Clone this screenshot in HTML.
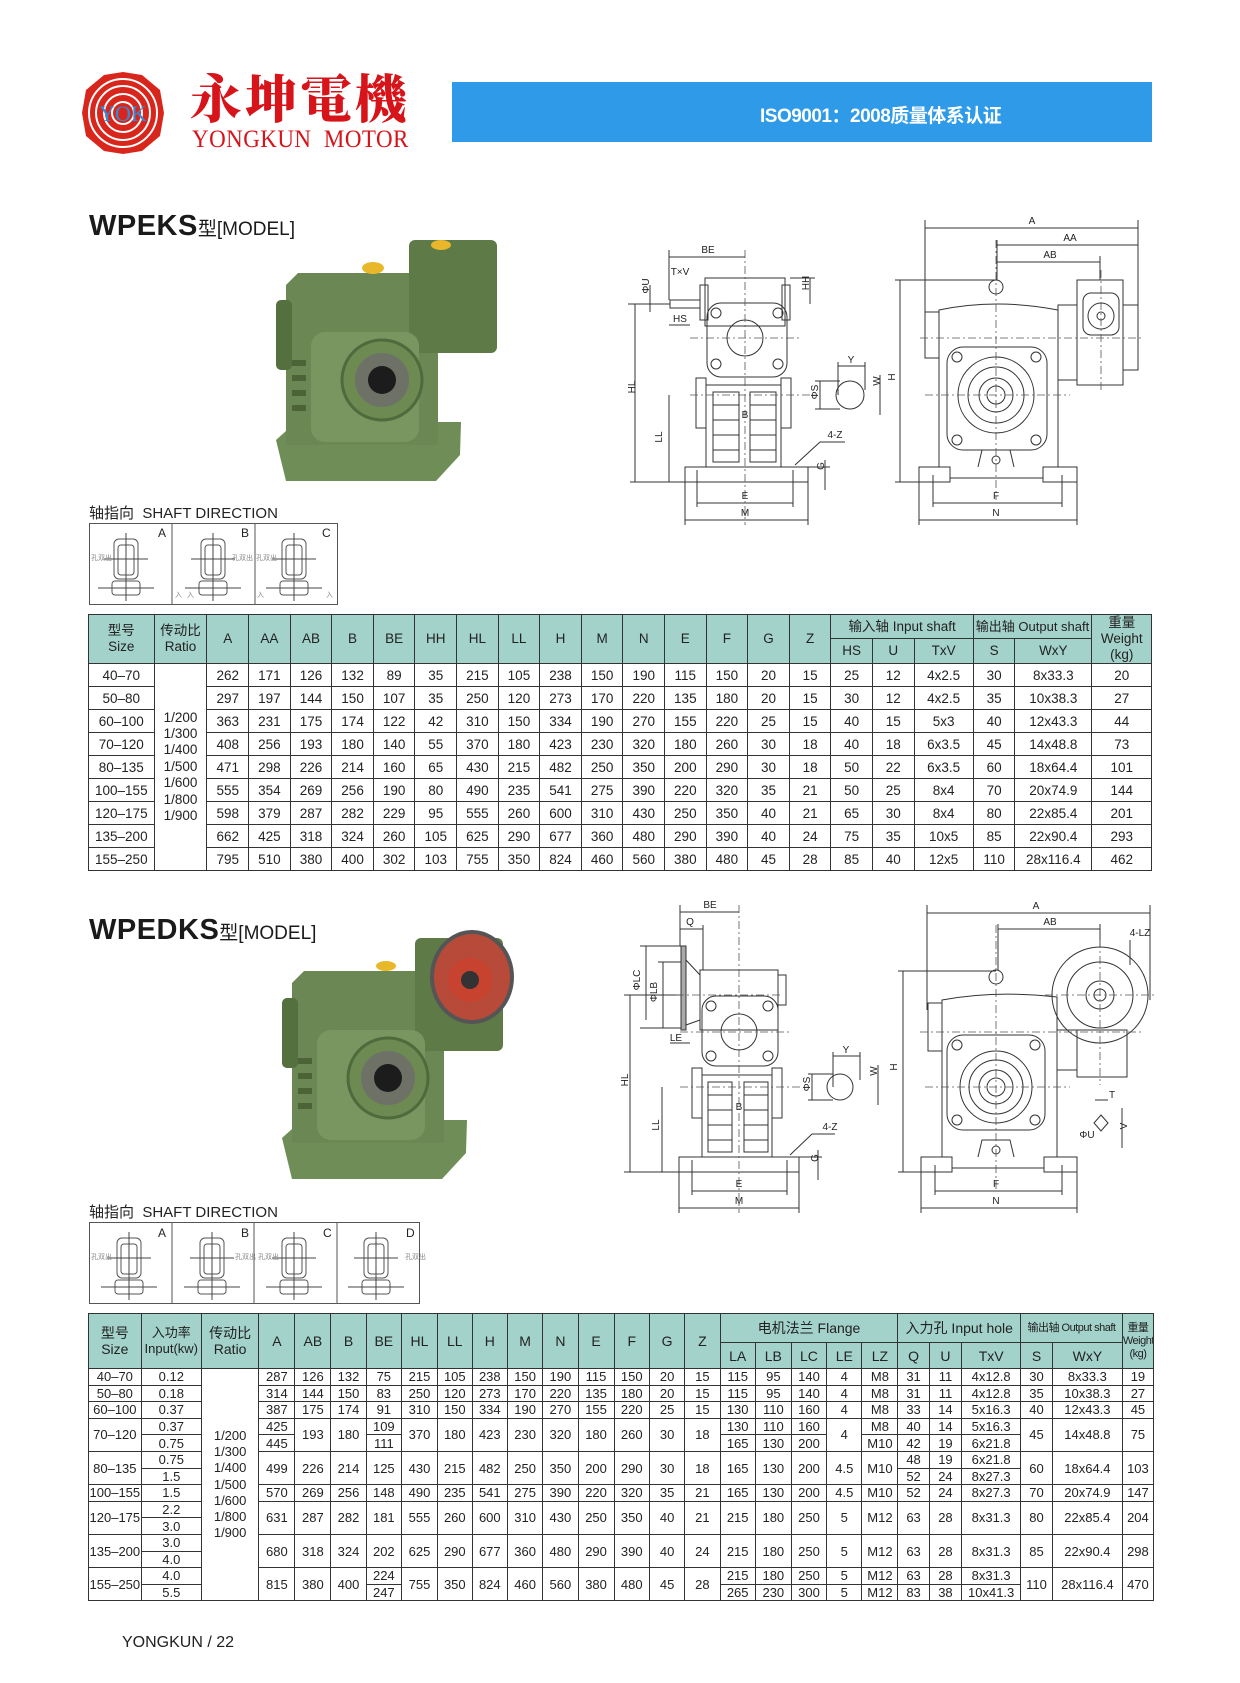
<!DOCTYPE html>
<html><head><meta charset="utf-8">
<style>
*{margin:0;padding:0;box-sizing:border-box}
body{width:1240px;height:1683px;background:#fff;position:relative;overflow:hidden;font-family:"Liberation Sans","Noto Sans CJK SC",sans-serif;color:#222}
.abs{position:absolute}
table{border-collapse:collapse;table-layout:fixed;position:absolute}
td{border:1px solid #333;text-align:center;vertical-align:middle;padding:0;white-space:nowrap;overflow:hidden}
.h td{background:#a3d2ca;font-size:14px;line-height:16px}
.t1 td{font-size:13.5px}
.t2 td{font-size:13px}
.t2 .h td{font-size:14px}
.sm{font-size:11px!important;letter-spacing:-0.5px}
.title{font-weight:bold;font-size:29px;letter-spacing:0.5px;color:#1a1a1a}
.title span{font-weight:normal;font-size:19px;letter-spacing:0}
.sd{font-size:15px;color:#222}
</style></head><body>

<!-- logo -->
<svg class="abs" style="left:80px;top:70px" width="86" height="86" viewBox="0 0 86 86">
<path d="M43 2 L62 5 L80 20 L84 43 L80 66 L62 81 L43 84 L24 81 L6 66 L2 43 L6 20 L24 5Z" fill="#d9261c"/>
<circle cx="43" cy="43" r="34" fill="none" stroke="#fff" stroke-width="2"/>
<circle cx="43" cy="43" r="27" fill="none" stroke="#fff" stroke-width="2"/>
<circle cx="43" cy="43" r="19" fill="none" stroke="#fff" stroke-width="2"/>
<circle cx="43" cy="43" r="11" fill="none" stroke="#fff" stroke-width="2"/>
<text x="43" y="51" text-anchor="middle" font-family="Liberation Serif" font-size="22" fill="#2b8fe0">YOK</text>
</svg>
<div class="abs" style="left:190px;top:66px;font-family:'Noto Serif CJK SC',serif;font-weight:900;font-size:52px;color:#d7141a;letter-spacing:3px;line-height:60px">永坤電機</div>
<div class="abs" style="left:192px;top:127px;font-family:'Liberation Serif',serif;font-size:25px;color:#d7141a;letter-spacing:0.5px;line-height:26px;transform:scaleX(0.92);transform-origin:left">YONGKUN&nbsp; MOTOR</div>
<div class="abs" style="left:452px;top:82px;width:700px;height:60px;background:#2f9be8"></div>
<div class="abs" style="left:760px;top:101px;color:#fff;font-size:19px;font-weight:bold;letter-spacing:-0.5px">ISO9001：2008质量体系认证</div>

<!-- titles -->
<div class="abs title" style="left:89px;top:210px">WPEKS<span>型[MODEL]</span></div>
<div class="abs title" style="left:89px;top:914px">WPEDKS<span>型[MODEL]</span></div>
<div class="abs sd" style="left:89px;top:502px">轴指向&nbsp; SHAFT DIRECTION</div>
<div class="abs sd" style="left:89px;top:1201px">轴指向&nbsp; SHAFT DIRECTION</div>

<svg class="abs" style="left:0;top:0" width="1240" height="1683" viewBox="0 0 1240 1683">
<defs>
<g id="photo">
 <path d="M0 200 L20 182 L185 182 L184 215 L160 241 L10 241 Z" fill="#6f8e57"/>
 <path d="M10 45 L22 33 L150 33 L162 50 L162 205 L10 205 Z" fill="#6b8753"/>
 <rect x="0" y="60" width="16" height="70" rx="5" fill="#55703f"/>
 <rect x="133" y="0" width="88" height="113" rx="6" fill="#5e7a47"/>
 <rect x="35" y="92" width="108" height="110" rx="14" fill="#7a9660"/>
 <circle cx="106" cy="140" r="40" fill="#6c8a52" stroke="#4f6a3c" stroke-width="3"/>
 <circle cx="106" cy="140" r="27" fill="#6d7166"/>
 <circle cx="106" cy="140" r="14" fill="#1c1c1c"/>
 <g fill="#4b6336"><rect x="16" y="120" width="14" height="6"/><rect x="16" y="135" width="14" height="6"/><rect x="16" y="150" width="14" height="6"/><rect x="16" y="165" width="14" height="6"/></g>
</g>
<g id="sdicon">
 <rect x="-12" y="-30" width="24" height="40" rx="5" fill="none" stroke="#555"/>
 <rect x="-8" y="-24" width="16" height="30" rx="3" fill="none" stroke="#555"/>
 <rect x="-14" y="12" width="28" height="14" rx="3" fill="none" stroke="#555"/>
 <line x1="0" y1="-36" x2="0" y2="32" stroke="#444"/>
 <line x1="-22" y1="-10" x2="22" y2="-10" stroke="#444"/>
 <line x1="-28" y1="19" x2="28" y2="19" stroke="#444"/>
</g>
</defs>
<g stroke="#555" fill="none" stroke-width="1">
<rect x="89.5" y="523.5" width="248" height="81"/>
<line x1="172" y1="523" x2="172" y2="605"/><line x1="255" y1="523" x2="255" y2="605"/>
<rect x="89.5" y="1222.5" width="330" height="81"/>
<line x1="172" y1="1222" x2="172" y2="1304"/><line x1="254" y1="1222" x2="254" y2="1304"/><line x1="337" y1="1222" x2="337" y2="1304"/>
</g>
<g font-size="12" fill="#222"><text x="158" y="537">A</text><text x="241" y="537">B</text><text x="322" y="537">C</text>
<text x="158" y="1237">A</text><text x="241" y="1237">B</text><text x="323" y="1237">C</text><text x="406" y="1237">D</text></g>
<use href="#sdicon" x="126" y="569"/><use href="#sdicon" x="213" y="569"/><use href="#sdicon" x="294" y="569"/>
<use href="#sdicon" x="129" y="1268"/><use href="#sdicon" x="212" y="1268"/><use href="#sdicon" x="294" y="1268"/><use href="#sdicon" x="376" y="1268"/>
<g font-size="7" fill="#888"><text x="91" y="560">孔双出</text><text x="232" y="560">孔双出</text><text x="256" y="560">孔双出</text><text x="187" y="597">入</text><text x="175" y="597">入</text><text x="257" y="597">入</text><text x="326" y="597">入</text>
<text x="91" y="1259">孔双出</text><text x="235" y="1259">孔双出</text><text x="258" y="1259">孔双出</text><text x="405" y="1259">孔双出</text></g>

<!-- photos -->
<use href="#photo" x="276" y="240"/>
<ellipse cx="373" cy="268" rx="11" ry="6" fill="#e8b82a"/><ellipse cx="441" cy="245" rx="10" ry="5" fill="#e8b82a"/>
<use href="#photo" x="282" y="938"/>
<ellipse cx="386" cy="966" rx="10" ry="5" fill="#e8b82a"/>
<ellipse cx="472" cy="977" rx="40" ry="45" fill="#b84a3a" stroke="#555" stroke-width="4"/>
<circle cx="470" cy="980" r="22" fill="#c8432f"/><circle cx="470" cy="980" r="9" fill="#333"/>

<!-- ===== Diagram 1 ===== -->
<g stroke="#333" fill="none" stroke-width="1">
 <rect x="705" y="278" width="80" height="48"/>
 <rect x="700" y="285" width="8" height="35"/><rect x="782" y="285" width="8" height="35"/>
 <rect x="707" y="303" width="80" height="74" rx="14"/>
 <circle cx="745" cy="338" r="18"/>
 <circle cx="716" cy="313" r="5"/><circle cx="778" cy="313" r="5"/><circle cx="716" cy="364" r="5"/><circle cx="778" cy="364" r="5"/>
 <rect x="706" y="385" width="75" height="82"/>
 <rect x="713" y="392" width="26" height="70"/><rect x="750" y="392" width="26" height="70"/>
 <line x1="713" y1="405" x2="739" y2="405"/><line x1="713" y1="420" x2="739" y2="420"/><line x1="713" y1="435" x2="739" y2="435"/><line x1="713" y1="450" x2="739" y2="450"/>
 <line x1="750" y1="405" x2="776" y2="405"/><line x1="750" y1="420" x2="776" y2="420"/><line x1="750" y1="435" x2="776" y2="435"/><line x1="750" y1="450" x2="776" y2="450"/>
 <rect x="696" y="378" width="10" height="50"/><rect x="781" y="378" width="10" height="50"/>
 <rect x="685" y="467" width="123" height="15"/>
 <rect x="670" y="300" width="30" height="8"/>
 <line x1="669" y1="257" x2="745" y2="257"/><line x1="669" y1="250" x2="669" y2="300"/>
 <line x1="635" y1="304" x2="635" y2="482"/><line x1="628" y1="304" x2="670" y2="304"/>
 <line x1="669" y1="395" x2="669" y2="482"/><line x1="630" y1="482" x2="685" y2="482"/>
 <line x1="650" y1="285" x2="650" y2="312"/><line x1="669" y1="325" x2="690" y2="325"/>
 <line x1="810" y1="278" x2="810" y2="304"/><line x1="790" y1="278" x2="815" y2="278"/>
 <line x1="697" y1="503" x2="793" y2="503"/><line x1="685" y1="520" x2="808" y2="520"/>
 <line x1="697" y1="470" x2="697" y2="507"/><line x1="793" y1="470" x2="793" y2="507"/><line x1="685" y1="482" x2="685" y2="525"/><line x1="808" y1="482" x2="808" y2="525"/>
 <line x1="825" y1="460" x2="825" y2="490"/><line x1="808" y1="467" x2="830" y2="467"/>
 <line x1="795" y1="465" x2="820" y2="442"/><line x1="820" y1="442" x2="845" y2="442"/>
 <circle cx="850" cy="395" r="14"/>
 <line x1="838" y1="366" x2="865" y2="366"/><line x1="838" y1="362" x2="838" y2="395"/><line x1="865" y1="362" x2="865" y2="390"/>
 <line x1="820" y1="381" x2="820" y2="409"/><line x1="815" y1="381" x2="840" y2="381"/><line x1="815" y1="409" x2="840" y2="409"/>
 <line x1="880" y1="375" x2="880" y2="415"/>
 <path d="M939 467 L939 310 Q996 298 1058 310 L1058 467"/>
 <rect x="925" y="312" width="14" height="46"/>
 <rect x="947" y="347" width="100" height="103" rx="16"/>
 <circle cx="996" cy="395" r="38"/><circle cx="996" cy="395" r="28"/><circle cx="996" cy="395" r="17"/><circle cx="996" cy="395" r="9"/>
 <circle cx="957" cy="357" r="5"/><circle cx="1036" cy="357" r="5"/><circle cx="957" cy="440" r="5"/><circle cx="1036" cy="440" r="5"/>
 <circle cx="996" cy="287" r="7"/>
 <rect x="1077" y="280" width="46" height="105"/>
 <rect x="1058" y="305" width="19" height="75"/>
 <rect x="1083" y="293" width="36" height="42" rx="8"/>
 <circle cx="1101" cy="316" r="13"/><circle cx="1101" cy="316" r="4"/>
 <rect x="1123" y="305" width="15" height="65"/>
 <rect x="919" y="467" width="31" height="15"/><rect x="1043" y="467" width="34" height="15"/>
 <line x1="950" y1="478" x2="1043" y2="478"/>
 <path d="M978 467 L982 450 L1010 450 L1014 467"/><circle cx="996" cy="460" r="4"/>
 <line x1="925" y1="228" x2="1138" y2="228"/><line x1="925" y1="220" x2="925" y2="325"/><line x1="1138" y1="220" x2="1138" y2="310"/>
 <line x1="997" y1="245" x2="1138" y2="245"/><line x1="997" y1="240" x2="997" y2="280"/>
 <line x1="997" y1="262" x2="1100" y2="262"/><line x1="1100" y1="256" x2="1100" y2="280"/>
 <line x1="900" y1="280" x2="900" y2="482"/><line x1="895" y1="280" x2="996" y2="280"/><line x1="895" y1="482" x2="919" y2="482"/>
 <line x1="933" y1="503" x2="1062" y2="503"/><line x1="919" y1="520" x2="1077" y2="520"/>
 <line x1="933" y1="475" x2="933" y2="507"/><line x1="1062" y1="475" x2="1062" y2="507"/><line x1="919" y1="482" x2="919" y2="525"/><line x1="1077" y1="482" x2="1077" y2="525"/>
</g>
<g stroke="#555" stroke-dasharray="8 3 2 3" stroke-width="0.8">
 <line x1="745" y1="250" x2="745" y2="525"/><line x1="690" y1="338" x2="800" y2="338"/><line x1="690" y1="395" x2="810" y2="395"/>
 <line x1="996" y1="240" x2="996" y2="500"/><line x1="920" y1="338" x2="1142" y2="338"/><line x1="925" y1="395" x2="1070" y2="395"/><line x1="1101" y1="270" x2="1101" y2="390"/>
</g>
<g font-size="10" fill="#222" text-anchor="middle">
 <text x="708" y="253">BE</text><text x="680" y="275">T×V</text><text x="680" y="322">HS</text>
 <text x="640" y="398" transform="rotate(-90 632 395)">HL</text><text x="665" y="440" transform="rotate(-90 662 440)">LL</text>
 <text x="655" y="296" transform="rotate(-90 647 294)">ΦU</text><text x="815" y="293" transform="rotate(-90 807 291)">HH</text>
 <text x="745" y="499">E</text><text x="745" y="516">M</text><text x="745" y="418">B</text>
 <text x="835" y="438">4-Z</text><text x="830" y="476" transform="rotate(-90 822 474)">G</text>
 <text x="851" y="363">Y</text><text x="818" y="398" transform="rotate(-90 815 395)">ΦS</text><text x="885" y="390" transform="rotate(-90 878 388)">W</text>
 <text x="1032" y="224">A</text><text x="1070" y="241">AA</text><text x="1050" y="258">AB</text>
 <text x="896" y="382" transform="rotate(-90 893 380)">H</text><text x="996" y="499">F</text><text x="996" y="516">N</text>
</g>

<!-- ===== Diagram 2 ===== -->
<g stroke="#333" fill="none" stroke-width="1">
 <rect x="681" y="946" width="5" height="84" fill="#aaa"/>
 <path d="M686 960 L700 975 L700 1020 L686 1025"/>
 <rect x="700" y="970" width="78" height="60"/>
 <rect x="778" y="975" width="8" height="30"/>
 <rect x="702" y="996" width="76" height="70" rx="14"/>
 <circle cx="739" cy="1032" r="18"/>
 <circle cx="711" cy="1006" r="5"/><circle cx="768" cy="1006" r="5"/><circle cx="711" cy="1056" r="5"/><circle cx="768" cy="1056" r="5"/>
 <rect x="702" y="1075" width="70" height="82"/>
 <rect x="708" y="1082" width="24" height="70"/><rect x="744" y="1082" width="24" height="70"/>
 <line x1="708" y1="1095" x2="732" y2="1095"/><line x1="708" y1="1110" x2="732" y2="1110"/><line x1="708" y1="1125" x2="732" y2="1125"/><line x1="708" y1="1140" x2="732" y2="1140"/>
 <line x1="744" y1="1095" x2="768" y2="1095"/><line x1="744" y1="1110" x2="768" y2="1110"/><line x1="744" y1="1125" x2="768" y2="1125"/><line x1="744" y1="1140" x2="768" y2="1140"/>
 <rect x="692" y="1068" width="10" height="50"/><rect x="772" y="1068" width="10" height="50"/>
 <rect x="679" y="1157" width="120" height="15"/>
 <line x1="680" y1="912" x2="739" y2="912"/><line x1="680" y1="905" x2="680" y2="946"/>
 <line x1="680" y1="929" x2="703" y2="929"/><line x1="703" y1="925" x2="703" y2="970"/>
 <line x1="646" y1="946" x2="646" y2="1020"/><line x1="640" y1="946" x2="681" y2="946"/>
 <line x1="663" y1="962" x2="663" y2="1028"/><line x1="658" y1="962" x2="681" y2="962"/><line x1="640" y1="1028" x2="681" y2="1028"/>
 <line x1="630" y1="995" x2="630" y2="1172"/><line x1="624" y1="995" x2="681" y2="995"/><line x1="624" y1="1172" x2="679" y2="1172"/>
 <line x1="662" y1="1087" x2="662" y2="1172"/>
 <line x1="670" y1="1043" x2="690" y2="1043"/>
 <line x1="692" y1="1191" x2="787" y2="1191"/><line x1="679" y1="1208" x2="799" y2="1208"/>
 <line x1="692" y1="1160" x2="692" y2="1195"/><line x1="787" y1="1160" x2="787" y2="1195"/><line x1="679" y1="1172" x2="679" y2="1213"/><line x1="799" y1="1172" x2="799" y2="1213"/>
 <line x1="818" y1="1150" x2="818" y2="1180"/><line x1="799" y1="1157" x2="822" y2="1157"/>
 <line x1="790" y1="1155" x2="812" y2="1134"/><line x1="812" y1="1134" x2="835" y2="1134"/>
 <circle cx="840" cy="1087" r="13"/>
 <line x1="833" y1="1056" x2="860" y2="1056"/><line x1="833" y1="1052" x2="833" y2="1087"/><line x1="860" y1="1052" x2="860" y2="1080"/>
 <line x1="812" y1="1074" x2="812" y2="1100"/><line x1="808" y1="1074" x2="833" y2="1074"/><line x1="808" y1="1100" x2="833" y2="1100"/>
 <line x1="878" y1="1065" x2="878" y2="1105"/>
 <path d="M942 1157 L942 1000 Q996 990 1057 997 L1057 1157"/>
 <rect x="928" y="1003" width="14" height="48"/>
 <rect x="947" y="1035" width="98" height="95" rx="16"/>
 <circle cx="996" cy="1087" r="36"/><circle cx="996" cy="1087" r="27"/><circle cx="996" cy="1087" r="17"/><circle cx="996" cy="1087" r="9"/>
 <circle cx="957" cy="1045" r="5"/><circle cx="1035" cy="1045" r="5"/><circle cx="957" cy="1120" r="5"/><circle cx="1035" cy="1120" r="5"/>
 <circle cx="996" cy="977" r="7"/>
 <circle cx="1100" cy="995" r="48"/><circle cx="1100" cy="995" r="33"/><circle cx="1100" cy="995" r="14"/><circle cx="1100" cy="995" r="6"/>
 <rect x="1077" y="1030" width="50" height="47"/><rect x="1057" y="1030" width="20" height="40"/>
 <path d="M1101 1115 L1108 1123 L1101 1131 L1094 1123 Z"/>
 <line x1="1122" y1="1108" x2="1122" y2="1148"/><line x1="1095" y1="1100" x2="1108" y2="1100"/>
 <rect x="921" y="1157" width="31" height="15"/><rect x="1044" y="1157" width="33" height="15"/>
 <line x1="952" y1="1168" x2="1044" y2="1168"/>
 <path d="M978 1157 L982 1140 L1010 1140 L1014 1157"/><circle cx="996" cy="1150" r="4"/>
 <line x1="927" y1="913" x2="1150" y2="913"/><line x1="927" y1="905" x2="927" y2="1010"/><line x1="1150" y1="905" x2="1150" y2="1000"/>
 <line x1="998" y1="929" x2="1100" y2="929"/><line x1="998" y1="924" x2="998" y2="970"/><line x1="1100" y1="924" x2="1100" y2="947"/>
 <line x1="1130" y1="940" x2="1130" y2="965"/>
 <line x1="903" y1="971" x2="903" y2="1172"/><line x1="898" y1="971" x2="996" y2="971"/><line x1="898" y1="1172" x2="921" y2="1172"/>
 <line x1="935" y1="1191" x2="1062" y2="1191"/><line x1="921" y1="1208" x2="1077" y2="1208"/>
 <line x1="935" y1="1165" x2="935" y2="1195"/><line x1="1062" y1="1165" x2="1062" y2="1195"/><line x1="921" y1="1172" x2="921" y2="1213"/><line x1="1077" y1="1172" x2="1077" y2="1213"/>
</g>
<g stroke="#555" stroke-dasharray="8 3 2 3" stroke-width="0.8">
 <line x1="739" y1="905" x2="739" y2="1213"/><line x1="680" y1="1032" x2="790" y2="1032"/><line x1="680" y1="1087" x2="800" y2="1087"/><line x1="676" y1="995" x2="780" y2="995"/>
 <line x1="996" y1="925" x2="996" y2="1190"/><line x1="920" y1="1032" x2="1142" y2="1032"/><line x1="925" y1="1087" x2="1070" y2="1087"/><line x1="1100" y1="940" x2="1100" y2="1085"/><line x1="1045" y1="995" x2="1155" y2="995"/>
</g>
<g font-size="10" fill="#222" text-anchor="middle">
 <text x="710" y="908">BE</text><text x="690" y="925">Q</text>
 <text x="643" y="983" transform="rotate(-90 640 983)">ΦLC</text><text x="660" y="995" transform="rotate(-90 657 995)">ΦLB</text>
 <text x="676" y="1041">LE</text>
 <text x="628" y="1086" transform="rotate(-90 625 1083)">HL</text><text x="660" y="1130" transform="rotate(-90 657 1128)">LL</text>
 <text x="739" y="1187">E</text><text x="739" y="1204">M</text><text x="739" y="1110">B</text>
 <text x="830" y="1130">4-Z</text><text x="820" y="1166" transform="rotate(-90 815 1163)">G</text>
 <text x="846" y="1053">Y</text><text x="810" y="1090" transform="rotate(-90 807 1087)">ΦS</text><text x="882" y="1080" transform="rotate(-90 875 1078)">W</text>
 <text x="1036" y="909">A</text><text x="1050" y="925">AB</text><text x="1140" y="936">4-LZ</text>
 <text x="898" y="1072" transform="rotate(-90 895 1070)">H</text><text x="996" y="1187">F</text><text x="996" y="1204">N</text>
 <text x="1112" y="1098">T</text><text x="1087" y="1138">ΦU</text><text x="1127" y="1130" transform="rotate(-90 1125 1128)">V</text>
</g>
</svg>

<!-- TABLE 1 -->
<table class="t1" style="left:88px;top:614px;width:1064px">
<colgroup><col style="width:65.6px"><col style="width:52.9px">
<col span="15" style="width:41.6px"><col style="width:41.6px"><col style="width:41.6px"><col style="width:59.2px"><col style="width:41.6px"><col style="width:76.9px"><col style="width:60px"></colgroup>
<tr class="h" style="height:24px"><td rowspan="2">型号<br>Size</td><td rowspan="2">传动比<br>Ratio</td>
<td rowspan="2">A</td><td rowspan="2">AA</td><td rowspan="2">AB</td><td rowspan="2">B</td><td rowspan="2">BE</td><td rowspan="2">HH</td><td rowspan="2">HL</td><td rowspan="2">LL</td><td rowspan="2">H</td><td rowspan="2">M</td><td rowspan="2">N</td><td rowspan="2">E</td><td rowspan="2">F</td><td rowspan="2">G</td><td rowspan="2">Z</td>
<td colspan="3">输入轴 Input shaft</td><td colspan="2" style="font-size:13px">输出轴 Output shaft</td><td rowspan="2">重量<br>Weight<br>(kg)</td></tr>
<tr class="h" style="height:25px"><td>HS</td><td>U</td><td>TxV</td><td>S</td><td>WxY</td></tr>
<tr style="height:23px"><td>40–70</td><td rowspan="9" style="line-height:16.4px">1/200<br>1/300<br>1/400<br>1/500<br>1/600<br>1/800<br>1/900</td><td>262</td><td>171</td><td>126</td><td>132</td><td>89</td><td>35</td><td>215</td><td>105</td><td>238</td><td>150</td><td>190</td><td>115</td><td>150</td><td>20</td><td>15</td><td>25</td><td>12</td><td>4x2.5</td><td>30</td><td>8x33.3</td><td>20</td></tr>
<tr style="height:23px"><td>50–80</td><td>297</td><td>197</td><td>144</td><td>150</td><td>107</td><td>35</td><td>250</td><td>120</td><td>273</td><td>170</td><td>220</td><td>135</td><td>180</td><td>20</td><td>15</td><td>30</td><td>12</td><td>4x2.5</td><td>35</td><td>10x38.3</td><td>27</td></tr>
<tr style="height:23px"><td>60–100</td><td>363</td><td>231</td><td>175</td><td>174</td><td>122</td><td>42</td><td>310</td><td>150</td><td>334</td><td>190</td><td>270</td><td>155</td><td>220</td><td>25</td><td>15</td><td>40</td><td>15</td><td>5x3</td><td>40</td><td>12x43.3</td><td>44</td></tr>
<tr style="height:23px"><td>70–120</td><td>408</td><td>256</td><td>193</td><td>180</td><td>140</td><td>55</td><td>370</td><td>180</td><td>423</td><td>230</td><td>320</td><td>180</td><td>260</td><td>30</td><td>18</td><td>40</td><td>18</td><td>6x3.5</td><td>45</td><td>14x48.8</td><td>73</td></tr>
<tr style="height:23px"><td>80–135</td><td>471</td><td>298</td><td>226</td><td>214</td><td>160</td><td>65</td><td>430</td><td>215</td><td>482</td><td>250</td><td>350</td><td>200</td><td>290</td><td>30</td><td>18</td><td>50</td><td>22</td><td>6x3.5</td><td>60</td><td>18x64.4</td><td>101</td></tr>
<tr style="height:23px"><td>100–155</td><td>555</td><td>354</td><td>269</td><td>256</td><td>190</td><td>80</td><td>490</td><td>235</td><td>541</td><td>275</td><td>390</td><td>220</td><td>320</td><td>35</td><td>21</td><td>50</td><td>25</td><td>8x4</td><td>70</td><td>20x74.9</td><td>144</td></tr>
<tr style="height:23px"><td>120–175</td><td>598</td><td>379</td><td>287</td><td>282</td><td>229</td><td>95</td><td>555</td><td>260</td><td>600</td><td>310</td><td>430</td><td>250</td><td>350</td><td>40</td><td>21</td><td>65</td><td>30</td><td>8x4</td><td>80</td><td>22x85.4</td><td>201</td></tr>
<tr style="height:23px"><td>135–200</td><td>662</td><td>425</td><td>318</td><td>324</td><td>260</td><td>105</td><td>625</td><td>290</td><td>677</td><td>360</td><td>480</td><td>290</td><td>390</td><td>40</td><td>24</td><td>75</td><td>35</td><td>10x5</td><td>85</td><td>22x90.4</td><td>293</td></tr>
<tr style="height:23px"><td>155–250</td><td>795</td><td>510</td><td>380</td><td>400</td><td>302</td><td>103</td><td>755</td><td>350</td><td>824</td><td>460</td><td>560</td><td>380</td><td>480</td><td>45</td><td>28</td><td>85</td><td>40</td><td>12x5</td><td>110</td><td>28x116.4</td><td>462</td></tr>
</table>

<!-- TABLE 2 -->
<table class="t2" style="left:88px;top:1313px;width:1065px">
<colgroup><col style="width:52.7px"><col style="width:60.2px"><col style="width:57.5px">
<col style="width:36px"><col style="width:36px"><col style="width:35.3px"><col style="width:35.3px"><col style="width:36px"><col style="width:34.7px"><col style="width:35.3px"><col style="width:35.3px"><col style="width:35.3px"><col style="width:36px"><col style="width:35.4px"><col style="width:35.3px"><col style="width:35.3px">
<col style="width:35.3px"><col style="width:36px"><col style="width:35.3px"><col style="width:35.3px"><col style="width:36px">
<col style="width:31.2px"><col style="width:32.6px"><col style="width:58.8px"><col style="width:31.9px"><col style="width:69.9px"><col style="width:31.2px"></colgroup>
<tr class="h" style="height:29px"><td rowspan="2">型号<br>Size</td><td rowspan="2" style="font-size:13px">入功率<br>Input(kw)</td><td rowspan="2">传动比<br>Ratio</td>
<td rowspan="2">A</td><td rowspan="2">AB</td><td rowspan="2">B</td><td rowspan="2">BE</td><td rowspan="2">HL</td><td rowspan="2">LL</td><td rowspan="2">H</td><td rowspan="2">M</td><td rowspan="2">N</td><td rowspan="2">E</td><td rowspan="2">F</td><td rowspan="2">G</td><td rowspan="2">Z</td>
<td colspan="5">电机法兰 Flange</td><td colspan="3">入力孔 Input hole</td><td colspan="2" class="sm">输出轴 Output shaft</td><td rowspan="2" class="sm" style="line-height:13px">重量<br>Weight<br>(kg)</td></tr>
<tr class="h" style="height:26px"><td>LA</td><td>LB</td><td>LC</td><td>LE</td><td>LZ</td><td>Q</td><td>U</td><td>TxV</td><td>S</td><td>WxY</td></tr>
<tr style="height:16.6px"><td>40–70</td><td>0.12</td><td rowspan="14" style="line-height:16.3px">1/200<br>1/300<br>1/400<br>1/500<br>1/600<br>1/800<br>1/900</td><td>287</td><td>126</td><td>132</td><td>75</td><td>215</td><td>105</td><td>238</td><td>150</td><td>190</td><td>115</td><td>150</td><td>20</td><td>15</td><td>115</td><td>95</td><td>140</td><td>4</td><td>M8</td><td>31</td><td>11</td><td>4x12.8</td><td>30</td><td>8x33.3</td><td>19</td></tr>
<tr style="height:16.6px"><td>50–80</td><td>0.18</td><td>314</td><td>144</td><td>150</td><td>83</td><td>250</td><td>120</td><td>273</td><td>170</td><td>220</td><td>135</td><td>180</td><td>20</td><td>15</td><td>115</td><td>95</td><td>140</td><td>4</td><td>M8</td><td>31</td><td>11</td><td>4x12.8</td><td>35</td><td>10x38.3</td><td>27</td></tr>
<tr style="height:16.6px"><td>60–100</td><td>0.37</td><td>387</td><td>175</td><td>174</td><td>91</td><td>310</td><td>150</td><td>334</td><td>190</td><td>270</td><td>155</td><td>220</td><td>25</td><td>15</td><td>130</td><td>110</td><td>160</td><td>4</td><td>M8</td><td>33</td><td>14</td><td>5x16.3</td><td>40</td><td>12x43.3</td><td>45</td></tr>
<tr style="height:16.6px"><td rowspan="2">70–120</td><td>0.37</td><td>425</td><td rowspan="2">193</td><td rowspan="2">180</td><td>109</td><td rowspan="2">370</td><td rowspan="2">180</td><td rowspan="2">423</td><td rowspan="2">230</td><td rowspan="2">320</td><td rowspan="2">180</td><td rowspan="2">260</td><td rowspan="2">30</td><td rowspan="2">18</td><td>130</td><td>110</td><td>160</td><td rowspan="2">4</td><td>M8</td><td>40</td><td>14</td><td>5x16.3</td><td rowspan="2">45</td><td rowspan="2">14x48.8</td><td rowspan="2">75</td></tr>
<tr style="height:16.6px"><td>0.75</td><td>445</td><td>111</td><td>165</td><td>130</td><td>200</td><td>M10</td><td>42</td><td>19</td><td>6x21.8</td></tr>
<tr style="height:16.6px"><td rowspan="2">80–135</td><td>0.75</td><td rowspan="2">499</td><td rowspan="2">226</td><td rowspan="2">214</td><td rowspan="2">125</td><td rowspan="2">430</td><td rowspan="2">215</td><td rowspan="2">482</td><td rowspan="2">250</td><td rowspan="2">350</td><td rowspan="2">200</td><td rowspan="2">290</td><td rowspan="2">30</td><td rowspan="2">18</td><td rowspan="2">165</td><td rowspan="2">130</td><td rowspan="2">200</td><td rowspan="2">4.5</td><td rowspan="2">M10</td><td>48</td><td>19</td><td>6x21.8</td><td rowspan="2">60</td><td rowspan="2">18x64.4</td><td rowspan="2">103</td></tr>
<tr style="height:16.6px"><td>1.5</td><td>52</td><td>24</td><td>8x27.3</td></tr>
<tr style="height:16.6px"><td>100–155</td><td>1.5</td><td>570</td><td>269</td><td>256</td><td>148</td><td>490</td><td>235</td><td>541</td><td>275</td><td>390</td><td>220</td><td>320</td><td>35</td><td>21</td><td>165</td><td>130</td><td>200</td><td>4.5</td><td>M10</td><td>52</td><td>24</td><td>8x27.3</td><td>70</td><td>20x74.9</td><td>147</td></tr>
<tr style="height:16.6px"><td rowspan="2">120–175</td><td>2.2</td><td rowspan="2">631</td><td rowspan="2">287</td><td rowspan="2">282</td><td rowspan="2">181</td><td rowspan="2">555</td><td rowspan="2">260</td><td rowspan="2">600</td><td rowspan="2">310</td><td rowspan="2">430</td><td rowspan="2">250</td><td rowspan="2">350</td><td rowspan="2">40</td><td rowspan="2">21</td><td rowspan="2">215</td><td rowspan="2">180</td><td rowspan="2">250</td><td rowspan="2">5</td><td rowspan="2">M12</td><td rowspan="2">63</td><td rowspan="2">28</td><td rowspan="2">8x31.3</td><td rowspan="2">80</td><td rowspan="2">22x85.4</td><td rowspan="2">204</td></tr>
<tr style="height:16.6px"><td>3.0</td></tr>
<tr style="height:16.6px"><td rowspan="2">135–200</td><td>3.0</td><td rowspan="2">680</td><td rowspan="2">318</td><td rowspan="2">324</td><td rowspan="2">202</td><td rowspan="2">625</td><td rowspan="2">290</td><td rowspan="2">677</td><td rowspan="2">360</td><td rowspan="2">480</td><td rowspan="2">290</td><td rowspan="2">390</td><td rowspan="2">40</td><td rowspan="2">24</td><td rowspan="2">215</td><td rowspan="2">180</td><td rowspan="2">250</td><td rowspan="2">5</td><td rowspan="2">M12</td><td rowspan="2">63</td><td rowspan="2">28</td><td rowspan="2">8x31.3</td><td rowspan="2">85</td><td rowspan="2">22x90.4</td><td rowspan="2">298</td></tr>
<tr style="height:16.6px"><td>4.0</td></tr>
<tr style="height:16.6px"><td rowspan="2">155–250</td><td>4.0</td><td rowspan="2">815</td><td rowspan="2">380</td><td rowspan="2">400</td><td>224</td><td rowspan="2">755</td><td rowspan="2">350</td><td rowspan="2">824</td><td rowspan="2">460</td><td rowspan="2">560</td><td rowspan="2">380</td><td rowspan="2">480</td><td rowspan="2">45</td><td rowspan="2">28</td><td>215</td><td>180</td><td>250</td><td>5</td><td>M12</td><td>63</td><td>28</td><td>8x31.3</td><td rowspan="2">110</td><td rowspan="2">28x116.4</td><td rowspan="2">470</td></tr>
<tr style="height:16.6px"><td>5.5</td><td>247</td><td>265</td><td>230</td><td>300</td><td>5</td><td>M12</td><td>83</td><td>38</td><td>10x41.3</td></tr>
</table>

<div class="abs" style="left:122px;top:1634px;font-size:16px;color:#222">YONGKUN / 22</div>
</body></html>
